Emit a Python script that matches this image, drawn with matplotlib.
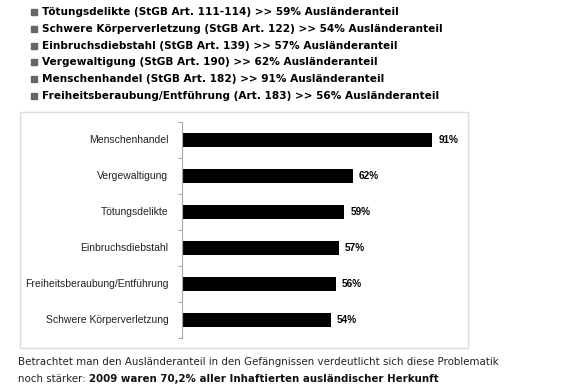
import matplotlib.pyplot as plt
import matplotlib.patches as patches

# Data
categories = ['Menschenhandel', 'Vergewaltigung', 'Tötungsdelikte', 'Einbruchsdiebstahl',
              'Freiheitsberaubung/Entführung', 'Schwere Körperverletzung']
values = [91, 62, 59, 57, 56, 54]

header_lines = [
    'Tötungsdelikte (StGB Art. 111-114) >> 59% Ausländeranteil',
    'Schwere Körperverletzung (StGB Art. 122) >> 54% Ausländeranteil',
    'Einbruchsdiebstahl (StGB Art. 139) >> 57% Ausländeranteil',
    'Vergewaltigung (StGB Art. 190) >> 62% Ausländeranteil',
    'Menschenhandel (StGB Art. 182) >> 91% Ausländeranteil',
    'Freiheitsberaubung/Entführung (Art. 183) >> 56% Ausländeranteil',
]
footer_1 = 'Betrachtet man den Ausländeranteil in den Gefängnissen verdeutlicht sich diese Problematik'
footer_2a = 'noch stärker: '
footer_2b = '2009 waren 70,2% aller Inhaftierten ausländischer Herkunft'

W, H = 574, 387
fig = plt.figure(figsize=(W / 100, H / 100), dpi=100)

def fx(px):
    return px / W

def fy(py):
    return 1 - py / H

# header list
for i, line in enumerate(header_lines):
    y = 12 + i * 16.8
    fig.patches.append(patches.Rectangle((fx(31), fy(y + 3)), 6 / W, 6 / H,
                                         transform=fig.transFigure, color='#666666'))
    fig.text(fx(42), fy(y), line, fontsize=7.6, fontweight='bold', color='#000000',
             va='center', ha='left', family='DejaVu Sans')

# chart frame
fig.patches.append(patches.Rectangle((fx(20), fy(348)), 448 / W, 236 / H,
                                     transform=fig.transFigure, facecolor='white',
                                     edgecolor='#dddddd', linewidth=1, zorder=-1))

ax = fig.add_axes([fx(182), fy(338), 275 / W, 216 / H])
ax.set_facecolor('none')
pos = list(range(len(categories)))[::-1]
ax.barh(pos, values, height=0.4, color='black')
ax.set_xlim(0, 100)
ax.set_ylim(-0.5, 5.5)
for p, v in zip(pos, values):
    ax.text(v + 2.2, p, f'{v}%', va='center', ha='left', fontsize=7.2,
            fontweight='bold', family='Liberation Sans')
ax.set_yticks([p + 0.5 for p in range(-1, 6)])
ax.set_yticklabels([])
ax.tick_params(axis='y', length=3, color='#aaaaaa', direction='out')
for p, c in zip(pos, categories):
    ax.text(-5, p, c, va='center', ha='right', fontsize=7.5, family='Liberation Sans',
            color='#222222')
ax.set_xticks([])
for s in ['top', 'right', 'bottom']:
    ax.spines[s].set_visible(False)
ax.spines['left'].set_color('#aaaaaa')
ax.spines['left'].set_linewidth(0.8)

# footer
fig.text(fx(18), fy(362), footer_1, fontsize=7.4, color='#222222', va='center',
         family='DejaVu Sans')
t = fig.text(fx(18), fy(379), footer_2a, fontsize=7.4, color='#222222', va='center',
             family='DejaVu Sans')
r = fig.canvas.get_renderer()
bb = t.get_window_extent(r)
fig.text(bb.x1 / W, fy(379), footer_2b, fontsize=7.4, fontweight='bold', color='#111111',
         va='center', family='DejaVu Sans')

fig.savefig('out.png', dpi=100)
